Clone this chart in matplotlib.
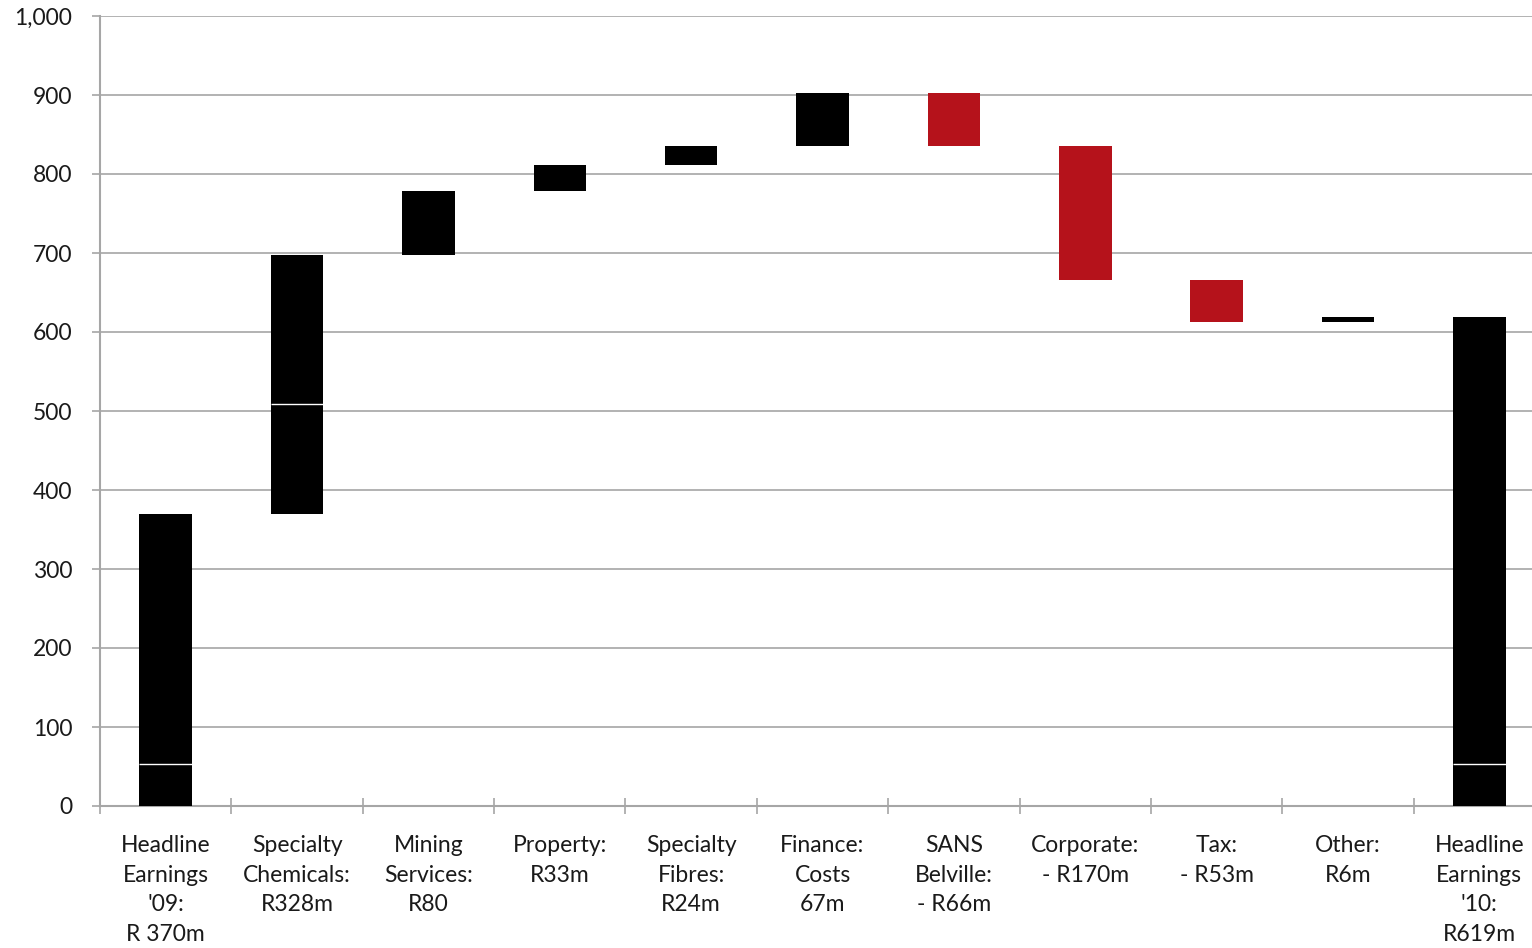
import matplotlib.pyplot as plt
import numpy as np
from matplotlib.ticker import FuncFormatter

plt.rcParams['font.family'] = ['Lato', 'DejaVu Sans']

labels = ["Headline\nEarnings\n'09:\nR 370m", 'Specialty\nChemicals:\nR328m', 'Mining\nServices:\nR80',
          'Property:\nR33m', 'Specialty\nFibres:\nR24m', 'Finance:\nCosts\n67m', 'SANS\nBelville:\n- R66m',
          'Corporate:\n- R170m', 'Tax:\n- R53m', 'Other:\nR6m', "Headline\nEarnings\n'10:\nR619m"]
changes = [370, 328, 80, 33, 24, 67, -66, -170, -53, 6, 619]
is_total = [True, False, False, False, False, False, False, False, False, False, True]
# faint white seams visible inside some bars
seams = [53, 509, None, None, None, None, None, None, None, None, 53]

black = '#000000'
red = '#B5121B'
grey = '#A6A6A6'

bottoms = []
heights = []
colors = []
running = 0
for c, t in zip(changes, is_total):
    if t:
        bottoms.append(0)
        heights.append(c)
        running = c
        colors.append(black)
    else:
        if c >= 0:
            bottoms.append(running)
            colors.append(black)
        else:
            bottoms.append(running + c)
            colors.append(red)
        heights.append(abs(c))
        running += c

x = np.arange(len(labels))

fig = plt.figure(figsize=(15.32, 9.48), dpi=100)
ax = fig.add_axes([100 / 1532, 1 - 806 / 948, 1445 / 1532, 790 / 948])

ax.bar(x, heights, bottom=bottoms, width=0.4, color=colors, zorder=3)
for i, s in enumerate(seams):
    if s is not None:
        ax.hlines(s, x[i] - 0.2, x[i] + 0.2, color='white', linewidth=1, zorder=4)

ax.set_ylim(0, 1000)
ax.set_xlim(-0.5, len(labels) - 0.5)
ax.set_yticks(np.arange(0, 1001, 100))
ax.yaxis.set_major_formatter(FuncFormatter(lambda v, p: f'{int(v):,}'))
ax.grid(axis='y', color=grey, linewidth=1.2, zorder=0)

ax.set_xticks(np.arange(-0.5, len(labels), 1))
ax.set_xticklabels([])
ax.set_xticks(x, minor=True)
ax.set_xticklabels(labels, minor=True, fontsize=16.5, color='#1a1a1a', linespacing=1.5)
ax.tick_params(axis='x', which='major', direction='inout', length=12, color=grey, width=1.2)
ax.tick_params(axis='x', which='minor', length=0, pad=21)
ax.tick_params(axis='y', direction='out', length=6, color=grey, width=1.2, labelsize=16.5,
               labelcolor='#1a1a1a', pad=14)

for side in ['top', 'right']:
    ax.spines[side].set_visible(False)
for side in ['left', 'bottom']:
    ax.spines[side].set_color(grey)
    ax.spines[side].set_linewidth(1.5)

fig.savefig('out.png', dpi=100)
